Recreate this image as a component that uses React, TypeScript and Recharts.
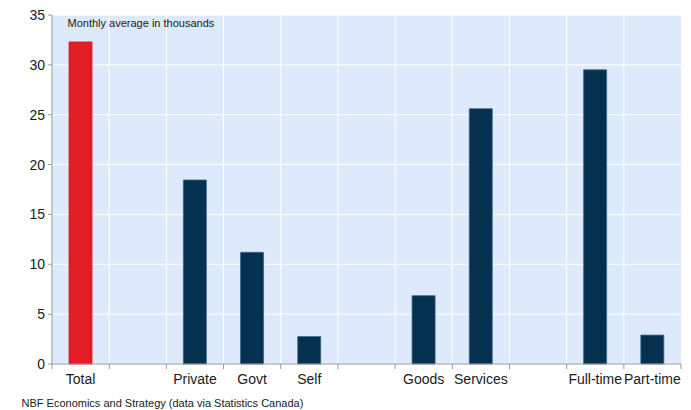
import React from "react";
import { BarChart, Bar, XAxis, YAxis, CartesianGrid, Cell } from "recharts";

const categories = ["Total", "", "Private", "Govt", "Self", "", "Goods", "Services", "", "Full-time", "Part-time"];
const values: (number | null)[] = [32.3, null, 18.45, 11.2, 2.75, null, 6.85, 25.6, null, 29.5, 2.9];
const highlight = ["Total"];
const yTicks = [0, 5, 10, 15, 20, 25, 30, 35];

const data = categories.map((c, i) => ({ name: c, value: values[i] }));

const FONT = "'Liberation Sans', Arial, sans-serif";
const AXIS = "#999999";

function verticalLines(props: any): number[] {
  const { xAxis, offset } = props;
  const n = categories.length;
  const out: number[] = [];
  const sc = xAxis && xAxis.scale;
  if (sc && typeof sc === "function" && typeof sc.bandwidth === "function") {
    for (let i = 1; i < n; i++) out.push(sc(i));
    return out;
  }
  const left = offset ? offset.left : 0;
  const w = offset ? offset.width : 0;
  for (let i = 1; i < n; i++) out.push(left + (i * w) / n);
  return out;
}

function CatTick(props: any) {
  const { x, y, payload, index } = props;
  const half = payload && payload.offset ? payload.offset : 0;
  const axisY = y - 10;
  return (
    <g>
      <line x1={x - half} x2={x - half} y1={axisY} y2={axisY + 5} stroke={AXIS} />
      {index === categories.length - 1 && (
        <line x1={x + half} x2={x + half} y1={axisY} y2={axisY + 5} stroke={AXIS} />
      )}
      <text
        x={x}
        y={y}
        dy="0.71em"
        textAnchor="middle"
        fontSize={14}
        fill="#1a1a1a"
        fontFamily={FONT}
      >
        {categories[index]}
      </text>
    </g>
  );
}

export default function App() {
  return (
    <div style={{ position: "relative", width: 683, height: 402 }}>
      <BarChart
        width={683}
        height={402}
        data={data}
        margin={{ top: 7, right: 10, bottom: 16, left: 0 }}
        barCategoryGap="30%"
      >
        <CartesianGrid
          stroke="#FFFFFF"
          strokeWidth={1}
          fill="#DDEAFB"
          fillOpacity={1}
          horizontalValues={yTicks}
          verticalCoordinatesGenerator={verticalLines}
        />
        <XAxis
          interval={0}
          tickLine={false}
          axisLine={{ stroke: AXIS }}
          tickSize={0}
          tickMargin={10}
          height={30}
          tick={<CatTick />}
        />
        <YAxis
          domain={[0, 35]}
          ticks={yTicks}
          width={44}
          tickSize={4}
          tickMargin={3}
          tickLine={{ stroke: AXIS }}
          axisLine={{ stroke: AXIS }}
          tick={{ fontSize: 14, fill: "#1a1a1a", fontFamily: FONT }}
          interval={0}
        />
        <Bar dataKey="value" barSize={23} isAnimationActive={false}>
          {data.map((d, i) => (
            <Cell
              key={i}
              fill={highlight.includes(d.name) ? "#E31D25" : "#03314F"}
              stroke={highlight.includes(d.name) ? "#E31D25" : "#3B6483"}
              strokeWidth={0.8}
            />
          ))}
        </Bar>
      </BarChart>
      <svg
        width={683}
        height={402}
        style={{ position: "absolute", left: 0, top: 0, pointerEvents: "none" }}
      >
        <text x={59.5} y={19} fontSize={11} fill="#1a1a1a" fontFamily={FONT}>
          Monthly average in thousands
        </text>
        <text x={13.5} y={399} fontSize={11} fill="#1a1a1a" fontFamily={FONT}>
          NBF Economics and Strategy (data via Statistics Canada)
        </text>
      </svg>
    </div>
  );
}
